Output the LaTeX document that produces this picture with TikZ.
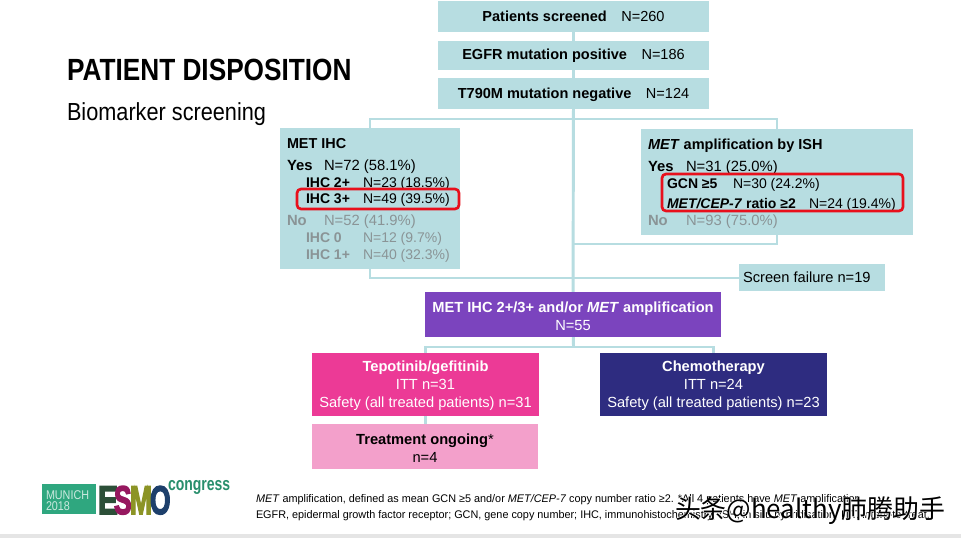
\documentclass[tikz,border=0pt]{standalone}
\usepackage{fontspec}
\usepackage{graphicx}
\setmainfont{Liberation Sans}
\newfontfamily\cjkfont{Noto Sans CJK SC}
\newfontfamily\cjkhalo[FakeBold=3]{Noto Sans CJK SC}
\newfontfamily\logofont[BoldFeatures={FakeBold=4}]{Liberation Sans}
\usetikzlibrary{backgrounds,calc}
\definecolor{teal1}{HTML}{B7DDE1}
\definecolor{purp}{HTML}{7B44BE}
\definecolor{hotpink}{HTML}{EC3A96}
\definecolor{navy1}{HTML}{2E2C80}
\definecolor{lpink}{HTML}{F3A0CB}
\definecolor{greytx}{HTML}{8A9496}
\definecolor{redb}{HTML}{E8101C}
\definecolor{logog}{HTML}{2FA77F}
\definecolor{logodk}{HTML}{2C4F38}
\definecolor{logomag}{HTML}{96185F}
\definecolor{logool}{HTML}{8C9426}
\definecolor{logonv}{HTML}{1D3F6B}
\newcommand{\subsize}{\fontsize{10.5}{13}\selectfont}
\newcommand{\bigsize}{\fontsize{11.1}{13}\selectfont}
\newcommand{\dn}{\rule{0pt}{10pt}}
\tikzset{
  x=0.75pt,y=-0.75pt,
  boxs/.style={inner sep=0pt,outer sep=0pt,align=center},
  txt/.style={anchor=base west,inner sep=0pt,outer sep=0pt,font=\subsize},
  big/.style={txt,font=\bigsize},
  grey/.style={txt,text=greytx},
  greybig/.style={big,text=greytx},
  con/.style={draw=teal1,line width=2.2pt},
  redbox/.style={draw=redb,line width=2pt,rounded corners=3pt},
  plain/.style={anchor=base west,inner sep=0pt,outer sep=0pt},
}
\newcommand{\bx}[6]{\node[boxs,#6,minimum width=#4*0.75pt-#2*0.75pt,minimum height=#5*0.75pt-#3*0.75pt] (#1) at ({(#2+#4)/2},{(#3+#5)/2})}
\begin{document}
\begin{tikzpicture}
\useasboundingbox (0,0) rectangle (961,538);
% top boxes
\begin{scope}[every node/.append style={font=\fontsize{10.9}{13.5}\selectfont}]
\bx{a}{438}{1}{709}{32}{fill=teal1} {\textbf{Patients screened}\quad N=260};
\bx{b}{438}{41}{709}{70}{fill=teal1} {\textbf{EGFR mutation positive}\quad N=186};
\bx{c}{438}{78}{709}{109}{fill=teal1} {\dn\textbf{T790M mutation negative}\quad N=124};
\bx{lft}{280}{128}{460}{269}{fill=teal1} {};
\bx{rgt}{641}{129}{913}{235}{fill=teal1} {};
\bx{sf}{739}{264}{885}{291}{fill=teal1} {};
\bx{mid}{425}{292}{721}{337}{fill=purp,text=white,font=\fontsize{11}{13.5}\selectfont} {\dn\textbf{MET IHC 2+/3+ and/or \textit{MET} amplification}\\N=55};
\bx{tep}{312}{353}{539}{416}{fill=hotpink,text=white,font=\fontsize{11}{13.5}\selectfont} {\dn\textbf{Tepotinib/gefitinib}\\ITT n=31\\Safety (all treated patients) n=31};
\bx{che}{600}{353}{827}{416}{fill=navy1,text=white,font=\fontsize{11}{13.5}\selectfont} {\dn\textbf{Chemotherapy}\\ITT n=24\\Safety (all treated patients) n=23};
\bx{ong}{312}{424}{538}{469}{fill=lpink,font=\fontsize{11}{13.5}\selectfont} {\dn\textbf{Treatment ongoing}*\\n=4};
\end{scope}
% connector junctions
\coordinate (topj) at (a.south |- 0,119);
\coordinate (rjoin) at (a.south |- 0,244);
\coordinate (bjoin) at (a.south |- 0,278);
\coordinate (armj) at (a.south |- 0,347);
\begin{scope}[on background layer]
\fill[white] (0,0) rectangle (961,538);
\fill[black!10] (0,534) rectangle (961,538);
\draw[con] (a) -- (b);
\draw[con] (b) -- (c);
\draw[con] (c) -- (mid);
\draw[con] (lft.north) -- (lft.north |- topj) -- (rgt.north |- topj) -- (rgt.north);
\draw[con] (lft.south) -- (lft.south |- bjoin) -- (sf.west |- bjoin);
\draw[con] (rgt.south) -- (rgt.south |- rjoin) -- (rjoin);
\draw[con] (mid) -- (armj);
\draw[con] (tep.north) -- (tep.north |- armj) -- (che.north |- armj) -- (che.north);
\draw[con] (tep.south) -- (ong.north -| tep.south);
\end{scope}
% left box text
\node[txt,font=\fontsize{10.8}{13}\selectfont] (l1) at (287,149) {\textbf{MET IHC}};
\node[big] (l2) at (287,171) {\textbf{Yes}};
\node[big] (l2n) at (324,171) {N=72 (58.1\%)};
\node[txt] (l3) at (306,188) {\textbf{IHC 2+}};
\node[txt] (l3n) at (363,188) {N=23 (18.5\%)};
\node[txt] (l4) at (306,204) {\textbf{IHC 3+}};
\node[txt] (l4n) at (363,204) {N=49 (39.5\%)};
\node[greybig] (l5) at (287,226) {\textbf{No}};
\node[greybig] (l5n) at (324,226) {N=52 (41.9\%)};
\node[grey] (l6) at (306,243) {\textbf{IHC 0}};
\node[grey] (l6n) at (363,243) {N=12 (9.7\%)};
\node[grey] (l7) at (306,260) {\textbf{IHC 1+}};
\node[grey] (l7n) at (363,260) {N=40 (32.3\%)};
\draw[redbox] (297,189) rectangle (459,209);
% right box text
\node[txt,font=\fontsize{10.9}{13}\selectfont] (r1) at (648,150) {\textit{\textbf{MET}} \textbf{amplification by ISH}};
\node[big] (r2) at (648,172) {\textbf{Yes}};
\node[big] (r2n) at (686,172) {N=31 (25.0\%)};
\node[txt] (r3) at (667,189) {\textbf{GCN ≥5}};
\node[txt] (r3n) at (733,189) {N=30 (24.2\%)};
\node[txt] (r4) at (667,209) {\textit{\textbf{MET/CEP-7}} \textbf{ratio ≥2}};
\node[txt] (r4n) at (809,209) {N=24 (19.4\%)};
\node[greybig] (r5) at (648,226) {\textbf{No}};
\node[greybig] (r5n) at (686,226) {N=93 (75.0\%)};
\draw[redbox] (662,174) rectangle (903,211);
\node[txt,font=\fontsize{11}{13}\selectfont] (sft) at (743,283) {Screen failure n=19};
% title
\node[plain] (title) at (67,81) {\fontsize{23}{26}\selectfont\scalebox{0.855}[1]{\textbf{PATIENT DISPOSITION}}};
\node[plain] (sub) at (67,121) {\fontsize{18.5}{22}\selectfont\scalebox{0.88}[1]{Biomarker screening}};
% footnote
\node[plain] (f1) at (256,502) {\fontsize{8.3}{10}\selectfont\scalebox{0.98}[1]{\textit{MET} amplification, defined as mean GCN ≥5 and/or \textit{MET/CEP-7} copy number ratio ≥2. *All 4 patients have \textit{MET} amplification.}};
\node[plain] (f2) at (256,518) {\fontsize{8.3}{10}\selectfont\scalebox{0.98}[1]{EGFR, epidermal growth factor receptor; GCN, gene copy number; IHC, immunohistochemistry; ISH, in situ hybridisation; ITT, intent-to-treat.}};
% logo
\fill[logog] (42,484) rectangle (96,514);
\node[plain,text=white!75!logog] (lg1) at (46,499) {\fontsize{9.5}{9}\selectfont\scalebox{0.85}[1]{MUNICH}};
\node[plain,text=white!75!logog] (lg2) at (46,510) {\fontsize{9.5}{9}\selectfont\scalebox{0.85}[1]{2018}};
\node[plain,text=logodk] (le) at (98,514) {\logofont\bfseries\fontsize{30}{31}\selectfont\scalebox{0.75}[1]{E}};
\node[plain,text=logomag] (ls) at (114,514) {\logofont\bfseries\fontsize{30}{31}\selectfont\scalebox{0.66}[1]{S}};
\node[plain,text=logool] (lm) at (130,514) {\logofont\bfseries\fontsize{30}{31}\selectfont\scalebox{0.66}[1]{M}};
\node[plain,text=logonv] (lo) at (150,514) {\logofont\bfseries\fontsize{30}{31}\selectfont\scalebox{0.66}[1]{O}};
\node[plain,text=logog!85!black] (lc) at (168,490) {\fontsize{14}{14}\selectfont\scalebox{0.75}[1]{\textbf{congress}}};
% watermark
\node[plain,text=white] (w0) at (675,518) {\cjkhalo\fontsize{19.4}{20}\selectfont 头条@healthy肺腾助手};
\node[plain,text=black] (w1) at (675,518) {\cjkfont\fontsize{19.4}{20}\selectfont 头条@healthy肺腾助手};
\end{tikzpicture}
\end{document}
